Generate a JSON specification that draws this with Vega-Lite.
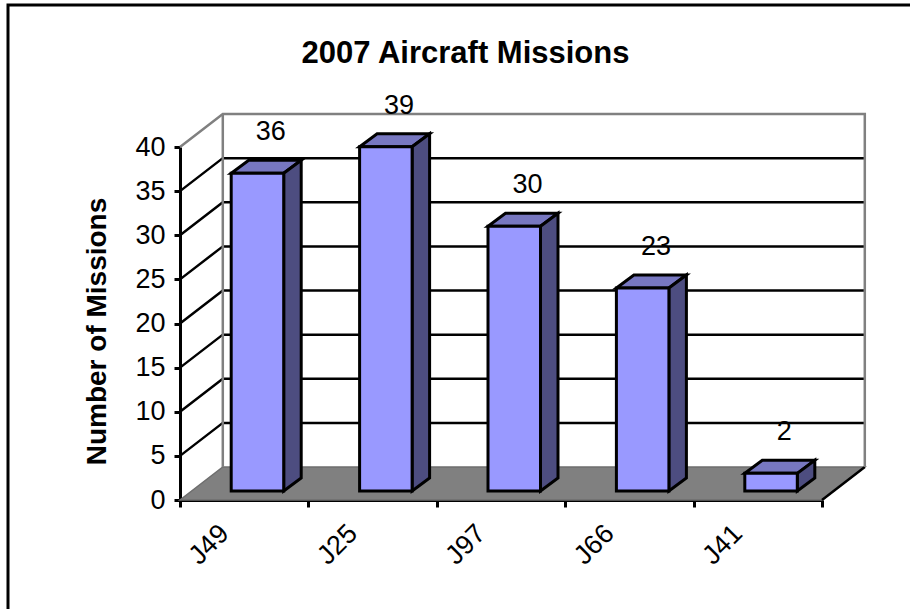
{"$schema":"https://vega.github.io/schema/vega-lite/v6.json","width":905,"height":608,"padding":{"left":8,"top":5,"right":0,"bottom":0},"autosize":"none","background":"white","config":{"font":"Liberation Sans","view":{"stroke":"black","strokeWidth":3}},"title":{"text":"2007 Aircraft Missions","fontSize":31,"fontWeight":"bold","font":"Liberation Sans","color":"black","anchor":"middle","dx":5,"dy":65,"offset":0},"datasets":{"bars":[{"aircraft":"J49","missions":36},{"aircraft":"J25","missions":39},{"aircraft":"J97","missions":30},{"aircraft":"J66","missions":23},{"aircraft":"J41","missions":2}],"gridBlack":[{"line":5,"aircraft":"J49","missions":5,"corner":"wfl","depth":"front"},{"line":5,"aircraft":"J49","missions":5,"corner":"wbl","depth":"back"},{"line":5,"aircraft":"J41","missions":5,"corner":"wbr","depth":"back"},{"line":10,"aircraft":"J49","missions":10,"corner":"wfl","depth":"front"},{"line":10,"aircraft":"J49","missions":10,"corner":"wbl","depth":"back"},{"line":10,"aircraft":"J41","missions":10,"corner":"wbr","depth":"back"},{"line":15,"aircraft":"J49","missions":15,"corner":"wfl","depth":"front"},{"line":15,"aircraft":"J49","missions":15,"corner":"wbl","depth":"back"},{"line":15,"aircraft":"J41","missions":15,"corner":"wbr","depth":"back"},{"line":20,"aircraft":"J49","missions":20,"corner":"wfl","depth":"front"},{"line":20,"aircraft":"J49","missions":20,"corner":"wbl","depth":"back"},{"line":20,"aircraft":"J41","missions":20,"corner":"wbr","depth":"back"},{"line":25,"aircraft":"J49","missions":25,"corner":"wfl","depth":"front"},{"line":25,"aircraft":"J49","missions":25,"corner":"wbl","depth":"back"},{"line":25,"aircraft":"J41","missions":25,"corner":"wbr","depth":"back"},{"line":30,"aircraft":"J49","missions":30,"corner":"wfl","depth":"front"},{"line":30,"aircraft":"J49","missions":30,"corner":"wbl","depth":"back"},{"line":30,"aircraft":"J41","missions":30,"corner":"wbr","depth":"back"},{"line":35,"aircraft":"J49","missions":35,"corner":"wfl","depth":"front"},{"line":35,"aircraft":"J49","missions":35,"corner":"wbl","depth":"back"},{"line":35,"aircraft":"J41","missions":35,"corner":"wbr","depth":"back"},{"line":"edge","aircraft":"J41","missions":0,"corner":"wfr","depth":"front"},{"line":"edge","aircraft":"J41","missions":0,"corner":"wbr","depth":"back"}],"wallEdges":[{"line":"top","aircraft":"J49","missions":40,"corner":"wfl","depth":"front"},{"line":"top","aircraft":"J49","missions":40,"corner":"wbl","depth":"back"},{"line":"top","aircraft":"J41","missions":40,"corner":"wbr","depth":"back"},{"line":"top","aircraft":"J41","missions":0,"corner":"wbr","depth":"back"},{"line":"left","aircraft":"J49","missions":40,"corner":"wbl","depth":"back"},{"line":"left","aircraft":"J49","missions":0,"corner":"wbl","depth":"back"}],"floor":[{"aircraft":"J49","missions":0,"corner":"wfl","depth":"front"},{"aircraft":"J41","missions":0,"corner":"wfr","depth":"front"},{"aircraft":"J41","missions":0,"corner":"wbr","depth":"back"},{"aircraft":"J49","missions":0,"corner":"wbl","depth":"back"}],"fronts":[{"aircraft":"J49","missions":36,"corner":"bfl","depth":"front"},{"aircraft":"J49","missions":36,"corner":"bfr","depth":"front"},{"aircraft":"J49","missions":0,"corner":"bfr","depth":"front"},{"aircraft":"J49","missions":0,"corner":"bfl","depth":"front"},{"aircraft":"J25","missions":39,"corner":"bfl","depth":"front"},{"aircraft":"J25","missions":39,"corner":"bfr","depth":"front"},{"aircraft":"J25","missions":0,"corner":"bfr","depth":"front"},{"aircraft":"J25","missions":0,"corner":"bfl","depth":"front"},{"aircraft":"J97","missions":30,"corner":"bfl","depth":"front"},{"aircraft":"J97","missions":30,"corner":"bfr","depth":"front"},{"aircraft":"J97","missions":0,"corner":"bfr","depth":"front"},{"aircraft":"J97","missions":0,"corner":"bfl","depth":"front"},{"aircraft":"J66","missions":23,"corner":"bfl","depth":"front"},{"aircraft":"J66","missions":23,"corner":"bfr","depth":"front"},{"aircraft":"J66","missions":0,"corner":"bfr","depth":"front"},{"aircraft":"J66","missions":0,"corner":"bfl","depth":"front"},{"aircraft":"J41","missions":2,"corner":"bfl","depth":"front"},{"aircraft":"J41","missions":2,"corner":"bfr","depth":"front"},{"aircraft":"J41","missions":0,"corner":"bfr","depth":"front"},{"aircraft":"J41","missions":0,"corner":"bfl","depth":"front"}],"tops":[{"aircraft":"J49","missions":36,"corner":"bfl","depth":"front"},{"aircraft":"J49","missions":36,"corner":"bfr","depth":"front"},{"aircraft":"J49","missions":36,"corner":"bbr","depth":"back"},{"aircraft":"J49","missions":36,"corner":"bbl","depth":"back"},{"aircraft":"J25","missions":39,"corner":"bfl","depth":"front"},{"aircraft":"J25","missions":39,"corner":"bfr","depth":"front"},{"aircraft":"J25","missions":39,"corner":"bbr","depth":"back"},{"aircraft":"J25","missions":39,"corner":"bbl","depth":"back"},{"aircraft":"J97","missions":30,"corner":"bfl","depth":"front"},{"aircraft":"J97","missions":30,"corner":"bfr","depth":"front"},{"aircraft":"J97","missions":30,"corner":"bbr","depth":"back"},{"aircraft":"J97","missions":30,"corner":"bbl","depth":"back"},{"aircraft":"J66","missions":23,"corner":"bfl","depth":"front"},{"aircraft":"J66","missions":23,"corner":"bfr","depth":"front"},{"aircraft":"J66","missions":23,"corner":"bbr","depth":"back"},{"aircraft":"J66","missions":23,"corner":"bbl","depth":"back"},{"aircraft":"J41","missions":2,"corner":"bfl","depth":"front"},{"aircraft":"J41","missions":2,"corner":"bfr","depth":"front"},{"aircraft":"J41","missions":2,"corner":"bbr","depth":"back"},{"aircraft":"J41","missions":2,"corner":"bbl","depth":"back"}],"sides":[{"aircraft":"J49","missions":36,"corner":"bfr","depth":"front"},{"aircraft":"J49","missions":36,"corner":"bbr","depth":"back"},{"aircraft":"J49","missions":0,"corner":"bbr","depth":"back"},{"aircraft":"J49","missions":0,"corner":"bfr","depth":"front"},{"aircraft":"J25","missions":39,"corner":"bfr","depth":"front"},{"aircraft":"J25","missions":39,"corner":"bbr","depth":"back"},{"aircraft":"J25","missions":0,"corner":"bbr","depth":"back"},{"aircraft":"J25","missions":0,"corner":"bfr","depth":"front"},{"aircraft":"J97","missions":30,"corner":"bfr","depth":"front"},{"aircraft":"J97","missions":30,"corner":"bbr","depth":"back"},{"aircraft":"J97","missions":0,"corner":"bbr","depth":"back"},{"aircraft":"J97","missions":0,"corner":"bfr","depth":"front"},{"aircraft":"J66","missions":23,"corner":"bfr","depth":"front"},{"aircraft":"J66","missions":23,"corner":"bbr","depth":"back"},{"aircraft":"J66","missions":0,"corner":"bbr","depth":"back"},{"aircraft":"J66","missions":0,"corner":"bfr","depth":"front"},{"aircraft":"J41","missions":2,"corner":"bfr","depth":"front"},{"aircraft":"J41","missions":2,"corner":"bbr","depth":"back"},{"aircraft":"J41","missions":0,"corner":"bbr","depth":"back"},{"aircraft":"J41","missions":0,"corner":"bfr","depth":"front"}]},"encoding":{"x":{"field":"aircraft","type":"nominal","sort":null,"scale":{"type":"band","domain":["J49","J25","J97","J66","J41"],"range":[172,814],"paddingInner":0,"paddingOuter":0},"axis":{"title":null,"bandPosition":0,"tickBand":"extent","offset":-113,"labelAngle":-45,"labelAlign":"right","labelBaseline":"middle","labelFont":"Liberation Sans","labelFontSize":27,"labelColor":"black","labelPadding":22,"labelOffset":-20,"tickColor":"black","tickWidth":3,"tickSize":7,"domainColor":"black","domainWidth":3,"grid":false}},"y":{"field":"missions","type":"ordinal","sort":null,"scale":{"type":"point","domain":[0,1,2,3,4,5,6,7,8,9,10,11,12,13,14,15,16,17,18,19,20,21,22,23,24,25,26,27,28,29,30,31,32,33,34,35,36,37,38,39,40],"range":[495,142],"padding":0},"axis":{"title":"Number of Missions","values":[0,5,10,15,20,25,30,35,40],"offset":-172,"titleFont":"Liberation Sans","titleFontSize":28,"titleFontWeight":"bold","titleColor":"black","titlePadding":23,"titleY":326,"labelFont":"Liberation Sans","labelFontSize":27,"labelColor":"black","labelPadding":9,"tickColor":"black","tickWidth":3,"tickSize":6,"domainColor":"black","domainWidth":3,"grid":false}}},"resolve":{"scale":{"xOffset":"independent","yOffset":"independent"}},"layer":[{"data":{"name":"floor"},"mark":{"type":"line","interpolate":"linear-closed","fill":"#808080","stroke":"#6e6e6e","strokeWidth":1.5},"encoding":{"order":{"value":null},"xOffset":{"field":"corner","type":"nominal","scale":{"type":"point","domain":["wfl","wbl","gap","wfr","wbr"],"range":[0,171.2],"padding":0}},"yOffset":{"field":"depth","type":"nominal","scale":{"type":"point","domain":["front","back"],"range":[0,-33],"padding":0}}}},{"data":{"name":"gridBlack"},"mark":{"type":"line","stroke":"black","strokeWidth":2.5},"encoding":{"detail":{"field":"line"},"order":{"value":null},"xOffset":{"field":"corner","type":"nominal","scale":{"type":"point","domain":["wfl","wbl","gap","wfr","wbr"],"range":[0,171.2],"padding":0}},"yOffset":{"field":"depth","type":"nominal","scale":{"type":"point","domain":["front","back"],"range":[0,-33],"padding":0}}}},{"data":{"name":"wallEdges"},"mark":{"type":"line","stroke":"#808080","strokeWidth":2.5},"encoding":{"detail":{"field":"line"},"order":{"value":null},"xOffset":{"field":"corner","type":"nominal","scale":{"type":"point","domain":["wfl","wbl","gap","wfr","wbr"],"range":[0,171.2],"padding":0}},"yOffset":{"field":"depth","type":"nominal","scale":{"type":"point","domain":["front","back"],"range":[0,-33],"padding":0}}}},{"data":{"name":"tops"},"mark":{"type":"line","interpolate":"linear-closed","fill":"#7777c0","stroke":"black","strokeWidth":3,"strokeJoin":"miter"},"encoding":{"detail":{"field":"aircraft"},"order":{"value":null},"xOffset":{"field":"corner","type":"nominal","scale":{"type":"point","domain":["bfl","bbl","gap","bfr","bbr"],"range":[51.2,121.2],"padding":0}},"yOffset":{"field":"depth","type":"nominal","scale":{"type":"point","domain":["front","back"],"range":[-9,-22],"padding":0}}}},{"data":{"name":"sides"},"mark":{"type":"line","interpolate":"linear-closed","fill":"#4d4d80","stroke":"black","strokeWidth":3,"strokeJoin":"miter"},"encoding":{"detail":{"field":"aircraft"},"order":{"value":null},"xOffset":{"field":"corner","type":"nominal","scale":{"type":"point","domain":["bfl","bbl","gap","bfr","bbr"],"range":[51.2,121.2],"padding":0}},"yOffset":{"field":"depth","type":"nominal","scale":{"type":"point","domain":["front","back"],"range":[-9,-22],"padding":0}}}},{"data":{"name":"fronts"},"mark":{"type":"line","interpolate":"linear-closed","fill":"#9999ff","stroke":"black","strokeWidth":3,"strokeJoin":"miter"},"encoding":{"detail":{"field":"aircraft"},"order":{"value":null},"xOffset":{"field":"corner","type":"nominal","scale":{"type":"point","domain":["bfl","bbl","gap","bfr","bbr"],"range":[51.2,121.2],"padding":0}},"yOffset":{"field":"depth","type":"nominal","scale":{"type":"point","domain":["front","back"],"range":[-9,-22],"padding":0}}}},{"data":{"name":"bars"},"mark":{"type":"text","font":"Liberation Sans","fontSize":27,"color":"black","xOffset":26.5,"yOffset":-50,"baseline":"middle"},"encoding":{"text":{"field":"missions","type":"quantitative"}}}]}
